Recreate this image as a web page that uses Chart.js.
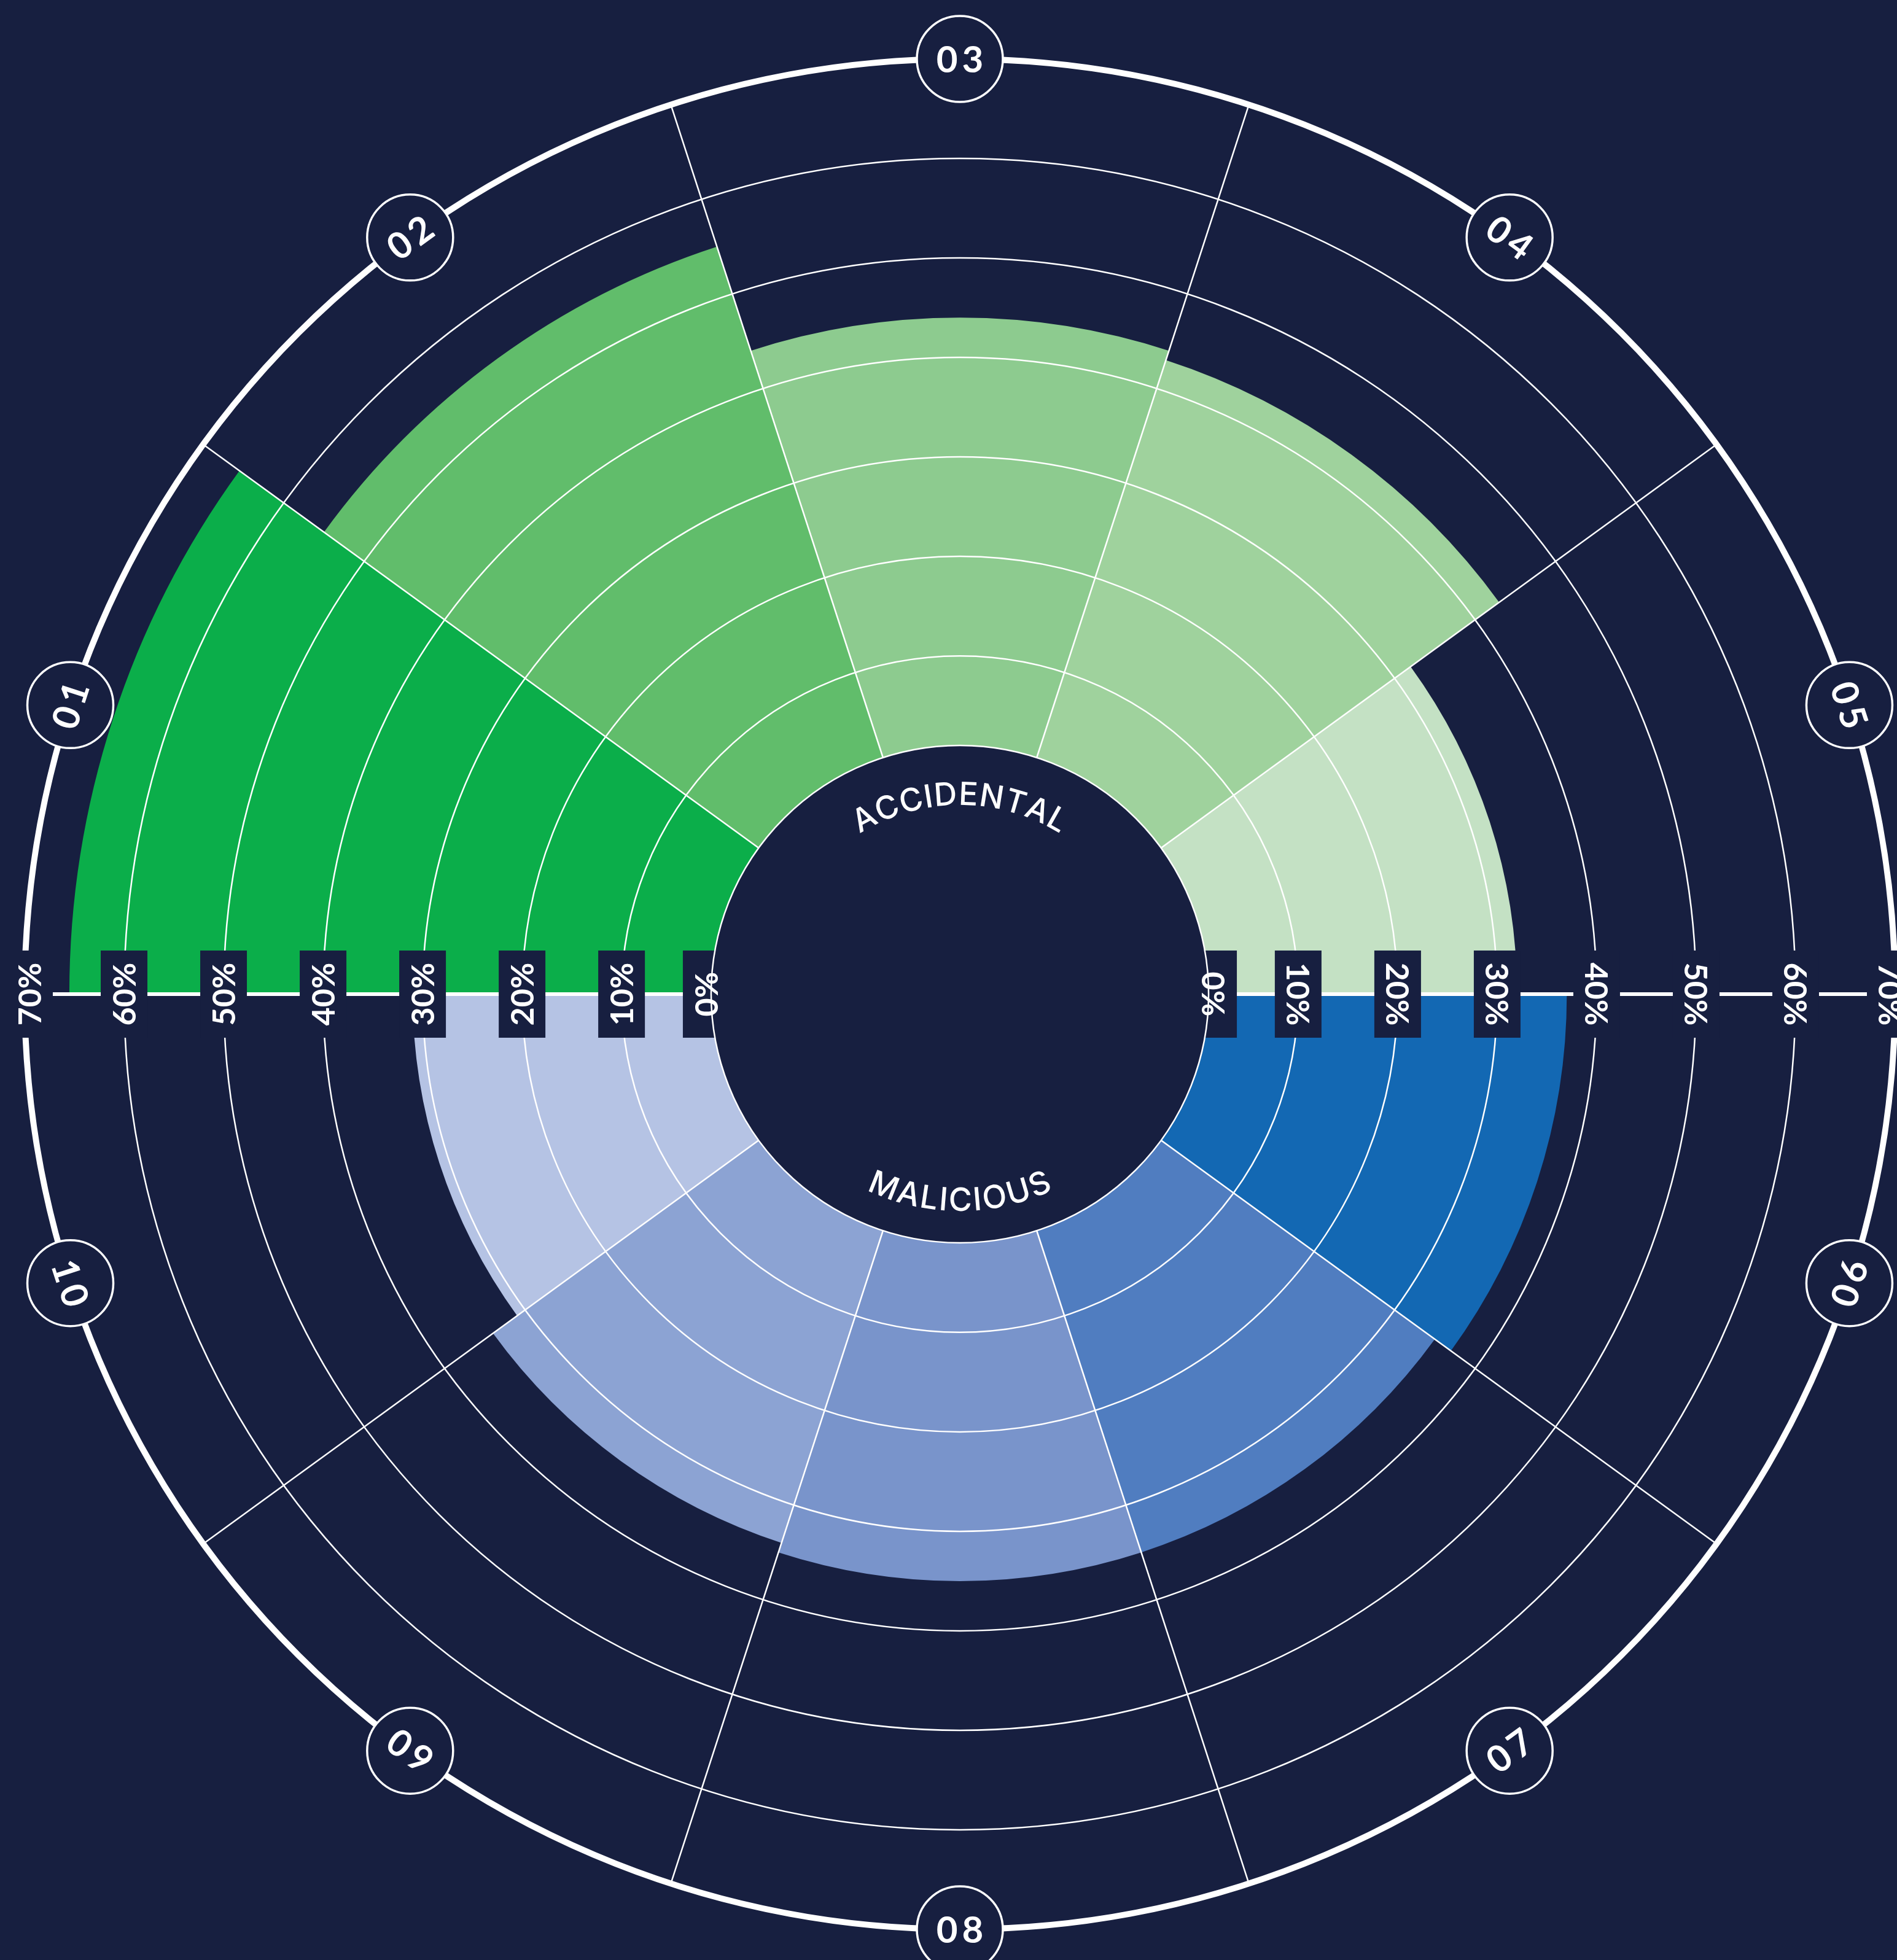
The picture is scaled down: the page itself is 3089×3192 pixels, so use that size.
<!DOCTYPE html>
<html>
<head>
<meta charset="utf-8">
<script src="https://cdn.jsdelivr.net/npm/chart.js@4/dist/chart.umd.min.js"></script>
<style>
  html, body { margin: 0; padding: 0; background: #171f40; }
  #c { display: block; }
</style>
</head>
<body>
<canvas id="c" width="3089" height="3192" style="width:3089px;height:3192px"></canvas>
<script>
// ---- data ----
const categories = ['01', '02', '03', '04', '05', '06', '07', '08', '09', '10'];
const values = [65.5, 55, 44, 43, 32, 37, 35, 35, 34, 31];
const colors = ['#0bae4a', '#61bd6b', '#8dcb8f', '#9fd29d', '#c4e1c4',
                '#1368b3', '#507dc0', '#7994cb', '#8ca3d3', '#b5c3e4'];
const tickValues = [0, 10, 20, 30, 40, 50, 60, 70];
const tickLabels = ['0%', '10%', '20%', '30%', '40%', '50%', '60%', '70%'];
const groupTop = 'ACCIDENTAL';
const groupBottom = 'MALICIOUS';

const BG = '#171f40';
const holeValue = 1;

function normDeg(d) {
  d = ((d % 360) + 360) % 360;
  if (d > 180) d -= 360;
  if (d > 90) d -= 180;
  if (d < -90) d += 180;
  return d;
}

function drawArcText(c, text, cx, cy, baseR, centerAngle, spanDeg, outward, font) {
  c.save();
  c.font = font;
  c.fillStyle = '#ffffff';
  c.textAlign = 'center';
  c.textBaseline = 'alphabetic';
  const chars = text.split('');
  const widths = chars.map(ch => c.measureText(ch).width);
  const W = widths.reduce((a, b) => a + b, 0);
  const arcLen = spanDeg * Math.PI / 180 * baseR;
  const gap = (arcLen - W) / (chars.length - 1);
  let pos = -arcLen / 2;
  chars.forEach((ch, i) => {
    const mid = pos + widths[i] / 2;
    const a = mid / baseR;
    const theta = outward ? centerAngle + a : centerAngle - a;
    const x = cx + baseR * Math.sin(theta);
    const y = cy - baseR * Math.cos(theta);
    c.save();
    c.translate(x, y);
    c.rotate(outward ? theta : theta - Math.PI);
    c.fillText(ch, 0, 0);
    c.restore();
    pos += widths[i] + gap;
  });
  c.restore();
}

const decor = {
  id: 'decor',
  afterDraw(chart) {
    const s = chart.scales.r;
    const c = chart.ctx;
    const cx = s.xCenter, cy = s.yCenter;
    const R = v => s.getDistanceFromCenterForValue(v);
    const holeR = R(holeValue);
    const rMax = R(s.max);
    const labelR = v => Math.min(Math.max(R(v), holeR + 8), rMax - 8);
    const boxW = 76, boxH = 142;

    c.save();
    // tick label boxes
    c.fillStyle = BG;
    tickValues.forEach(v => {
      const r = labelR(v);
      c.fillRect(cx - r - boxW / 2, cy - boxH / 2, boxW, boxH);
      c.fillRect(cx + r - boxW / 2, cy - boxH / 2, boxW, boxH);
    });
    // centre hole
    c.beginPath();
    c.arc(cx, cy, holeR, 0, Math.PI * 2);
    c.fillStyle = BG;
    c.fill();
    c.lineWidth = 2.5;
    c.strokeStyle = '#ffffff';
    c.stroke();

    // tick labels
    c.font = 'bold 52px Lato';
    c.fillStyle = '#ffffff';
    c.textAlign = 'center';
    c.textBaseline = 'middle';
    tickValues.forEach((v, i) => {
      const r = labelR(v);
      c.save(); c.translate(cx - r, cy); c.rotate(-Math.PI / 2); c.fillText(tickLabels[i], 0, 2); c.restore();
      c.save(); c.translate(cx + r, cy); c.rotate(Math.PI / 2); c.fillText(tickLabels[i], 0, 2); c.restore();
    });

    // category badges on the outer ring
    const n = categories.length;
    const sp = 7;
    categories.forEach((lab, i) => {
      const p = s.getPointPosition(i, rMax, Math.PI / n);
      const deg = (s.getIndexAngle(i) + Math.PI / n) * 180 / Math.PI;
      c.beginPath();
      c.arc(p.x, p.y, 70, 0, Math.PI * 2);
      c.fillStyle = BG;
      c.fill();
      c.lineWidth = 3.5;
      c.strokeStyle = '#ffffff';
      c.stroke();
      c.save();
      c.translate(p.x, p.y);
      c.rotate(normDeg(deg) * Math.PI / 180);
      c.font = 'bold 60px Lato';
      c.letterSpacing = sp + 'px';
      c.fillStyle = '#ffffff';
      c.textAlign = 'center';
      c.textBaseline = 'alphabetic';
      const m = c.measureText(lab);
      c.fillText(lab, sp / 2, (m.actualBoundingBoxAscent - m.actualBoundingBoxDescent) / 2);
      c.restore();
    });

    // curved group names
    drawArcText(c, groupTop, cx, cy, holeR - 97, 0, 64, true, '500 52px Inter');
    drawArcText(c, groupBottom, cx, cy, holeR - 52, Math.PI, 51, false, '500 52px Inter');
    c.restore();
  }
};

new Chart(document.getElementById('c'), {
  type: 'polarArea',
  data: {
    labels: categories,
    datasets: [{
      data: values,
      backgroundColor: colors,
      borderWidth: 0
    }]
  },
  options: {
    responsive: false,
    animation: false,
    devicePixelRatio: 1,
    layout: { padding: { left: 38, right: 0, top: 96, bottom: 50 } },
    plugins: { legend: { display: false }, tooltip: { enabled: false } },
    scales: {
      r: {
        min: -24,
        max: 70,
        startAngle: 270,
        afterBuildTicks: sc => { sc.ticks = tickValues.map(v => ({ value: v })); },
        ticks: { display: false },
        pointLabels: { display: false },
        grid: {
          z: 1,
          circular: true,
          color: '#ffffff',
          lineWidth: ctx => (ctx.tick && ctx.tick.value === 70 ? 10 : 2.5)
        },
        angleLines: {
          display: true,
          color: '#ffffff',
          lineWidth: ctx => (ctx.index % 5 === 0 ? 6 : 2.5)
        }
      }
    }
  },
  plugins: [decor]
});
</script>
</body>
</html>
